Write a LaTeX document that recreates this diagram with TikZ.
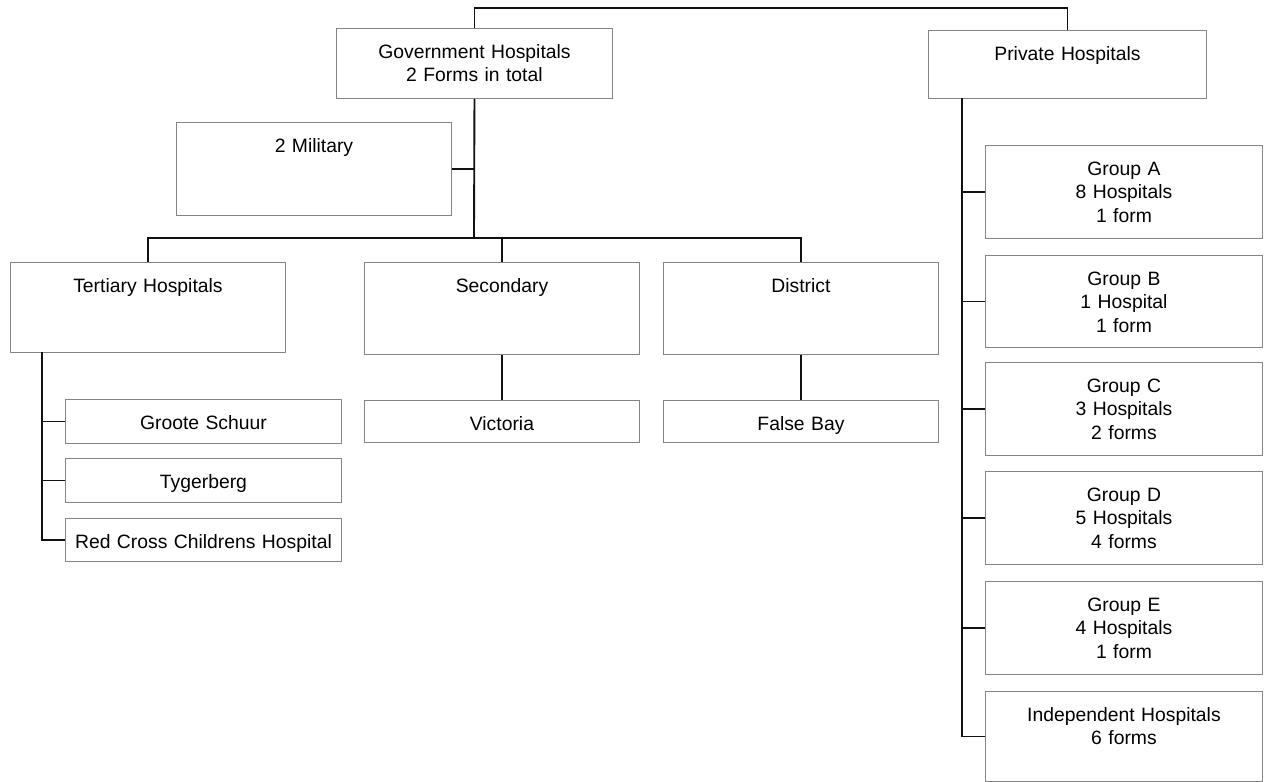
\documentclass[tikz,border=0pt]{standalone}
\usepackage{fontspec}
\setmainfont{Liberation Sans}
\usepackage{xcolor}
\definecolor{boxgray}{HTML}{858585}
\definecolor{linegray}{HTML}{111111}
\usepackage{tikz}
\usetikzlibrary{calc}

\begin{document}
\begin{tikzpicture}[
    x=0.75pt, y=-0.75pt,
    font=\fontsize{14.5}{17.5}\selectfont,
    box/.style 2 args={draw=boxgray, line width=0.7pt, anchor=north west, align=center,
        inner xsep=0pt, inner ysep=4pt, text height=18.5pt,
        text width=#1*0.75pt, text depth=#2*0.75pt-26.5pt},
    link/.style={draw=linegray, line width=1.4pt},
]
\useasboundingbox (0,0) rectangle (1265,782);

% ── Top level ──
\node[box={276}{70}] (gov) at (336,28) {Government Hospitals\\2 Forms in total};
\node[box={278}{68}] (priv) at (928,30) {Private Hospitals};

% ── Government side ──
\node[box={275}{93}] (mil) at (176,122) {2 Military};
\node[box={275}{90}] (tert) at (10,262) {Tertiary Hospitals};
\node[box={275}{92}] (sec) at (364,262) {Secondary};
\node[box={275}{92}] (dist) at (663,262) {District};

\node[box={275}{42}] (vic) at (364,400) {Victoria};
\node[box={275}{42}] (fb) at (663,400) {False Bay};

\node[box={276}{44}] (groote) at (65,399) {Groote Schuur};
\node[box={276}{44}] (tyger) at (65,458) {Tygerberg};
\node[box={276}{43}] (redx) at (65,518) {Red Cross Childrens Hospital};

% ── Private side ──
\node[box={277}{93}] (grpA) at (985,145) {Group A\\8 Hospitals\\1 form};
\node[box={277}{92}] (grpB) at (985,255) {Group B\\1 Hospital\\1 form};
\node[box={277}{93}] (grpC) at (985,362) {Group C\\3 Hospitals\\2 forms};
\node[box={277}{93}] (grpD) at (985,471) {Group D\\5 Hospitals\\4 forms};
\node[box={277}{93}] (grpE) at (985,581) {Group E\\4 Hospitals\\1 form};
\node[box={277}{90}] (indep) at (985,691) {Independent Hospitals\\6 forms};

% ── Junction points ──
\coordinate (govbus) at (474,238);
\coordinate (tertspine) at (42,352);
\coordinate (privspine) at (962,98);

% ── Connectors ──
\draw[link] (gov.north) -- ++(0,-20) -| (priv.north);
\draw[link] (gov.south) -- (govbus);
\draw[link] (mil.east) -- (mil.east -| govbus);
\draw[link] (tert.north) -- ++(0,-24) -| (dist.north);
\draw[link] (sec.north) -- ++(0,-24);
\draw[link] (sec.south) -- (vic.north);
\draw[link] (dist.south) -- (fb.north);

\draw[link] (tertspine) |- (redx.west);
\foreach \h in {groote, tyger}
    \draw[link] (\h.west) -- (\h.west -| tertspine);

\draw[link] (privspine) |- (indep.west);
\foreach \g in {grpA, grpB, grpC, grpD, grpE}
    \draw[link] (\g.west) -- (\g.west -| privspine);
\end{tikzpicture}
\end{document}
